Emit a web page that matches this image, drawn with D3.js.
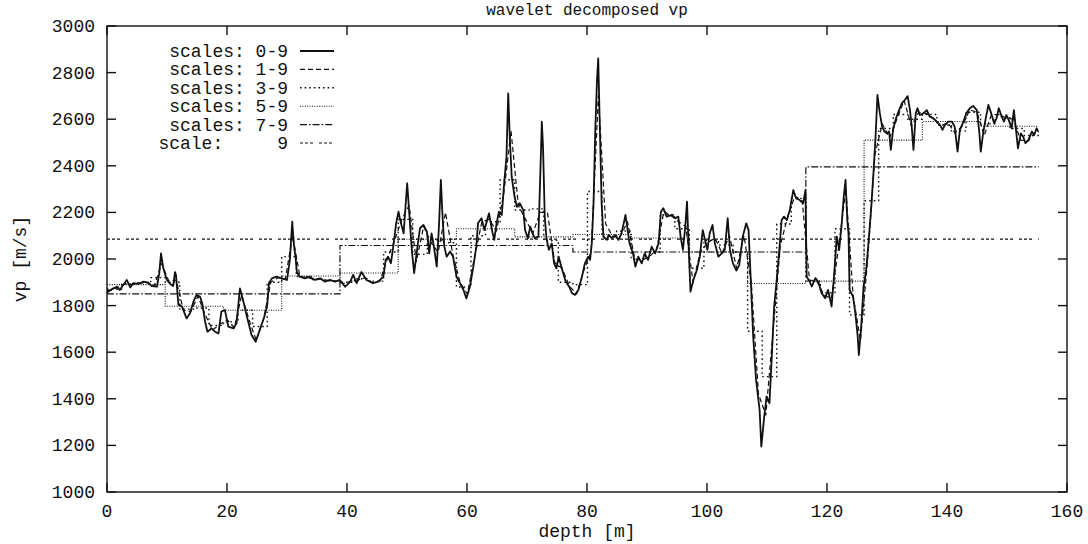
<!DOCTYPE html>
<html>
<head>
<meta charset="utf-8">
<script src="https://cdn.jsdelivr.net/npm/d3@7"></script>
<style>
  body { margin: 0; background: #fff; }
  svg text { font-family: "Liberation Mono", "Courier New", monospace; font-size: 18px; fill: #111; white-space: pre; }
  svg text.title { font-size: 16px; }
</style>
</head>
<body>
<svg id="chart" width="1088" height="544"></svg>
<script>
// ---- data: vp log (m/s) against depth (m) and its Haar wavelet approximations ----
const signalDepth = [0.00,0.19,1.06,1.65,2.12,2.71,3.29,3.87,4.36,5.22,6.10,6.87,7.46,8.32,8.71,9.00,9.39,9.97,10.55,11.03,11.33,11.51,11.90,12.49,13.26,13.84,14.41,14.90,15.49,15.87,16.35,16.74,17.42,18.00,18.58,19.06,19.65,20.22,21.09,21.58,22.16,22.74,23.32,24.09,24.78,25.45,26.23,26.71,27.00,27.48,28.25,29.12,30.00,30.48,30.87,31.16,31.45,31.65,32.12,33.00,33.77,34.64,35.52,36.29,37.16,38.03,38.80,39.68,40.55,41.03,41.61,42.39,43.25,44.32,45.19,46.06,46.45,46.83,47.32,47.71,48.19,48.58,48.87,49.44,49.83,50.03,50.42,50.80,51.19,51.68,52.16,52.74,53.32,53.70,54.09,54.48,54.96,55.35,55.64,55.93,56.22,56.61,57.19,57.67,58.25,58.84,59.41,59.90,60.48,61.06,61.55,61.83,62.42,62.90,63.28,63.67,64.16,64.54,64.93,65.32,65.80,66.19,66.58,66.87,67.15,67.45,67.93,68.32,68.80,69.38,69.68,70.15,70.54,70.93,71.31,71.90,72.19,72.47,72.67,72.96,73.25,73.64,74.12,74.51,74.90,75.28,75.87,76.45,77.03,77.51,77.99,78.57,79.16,79.64,80.22,80.51,80.80,81.09,81.38,81.67,81.87,82.15,82.44,82.74,83.31,83.60,84.19,84.67,85.25,85.74,86.12,86.41,86.70,87.09,87.67,88.06,88.55,89.12,89.61,90.18,90.77,91.35,91.93,92.32,92.71,93.28,94.15,94.73,95.22,95.60,95.99,96.38,96.67,96.96,97.25,97.74,98.31,98.80,99.29,99.67,100.06,100.45,100.92,101.31,101.90,102.47,102.96,103.45,103.83,104.32,104.90,105.38,105.96,106.54,106.93,107.32,107.70,108.18,108.77,109.05,109.54,109.93,110.41,110.80,111.19,111.67,112.05,112.44,112.83,113.31,113.80,114.38,114.86,115.45,116.02,116.41,116.61,117.09,117.47,118.06,118.53,119.12,119.70,120.18,120.77,121.16,121.64,122.03,122.41,122.79,123.09,123.38,123.58,123.77,124.34,124.73,125.12,125.31,125.70,126.09,126.48,126.86,127.34,127.74,128.12,128.41,128.80,129.19,129.57,129.96,130.35,130.64,131.02,131.41,131.90,132.47,132.96,133.44,133.83,134.12,134.41,134.79,135.08,135.47,136.06,136.63,137.12,137.70,138.28,138.86,139.25,139.64,140.21,140.80,141.28,141.76,142.15,142.74,143.21,143.80,144.37,144.96,145.35,145.63,146.02,146.41,146.90,147.37,147.86,148.25,148.63,149.12,149.51,149.89,150.28,150.77,151.15,151.44,151.83,152.31,152.69,153.08,153.57,154.15,154.54,154.93,155.21];
const signalVp = [1855,1860,1874,1881,1867,1888,1910,1878,1896,1893,1903,1899,1884,1881,1938,2024,1960,1910,1893,1884,1944,1930,1803,1796,1745,1767,1817,1845,1839,1810,1731,1688,1702,1688,1681,1774,1781,1710,1702,1724,1874,1817,1753,1674,1645,1695,1753,1803,1896,1917,1924,1917,1910,1996,2160,2060,2000,1944,1924,1917,1924,1910,1917,1903,1910,1903,1910,1881,1903,1932,1896,1944,1910,1896,1903,1924,1996,2010,1982,2053,2153,2203,2167,2110,2253,2325,2181,2039,1939,2039,2132,2146,2117,2024,2110,2053,1967,2153,2339,2181,2053,2010,2032,2010,1924,1896,1867,1831,1881,1967,2053,2153,2175,2124,2160,2196,2124,2082,2153,2203,2189,2325,2439,2711,2511,2353,2267,2224,2239,2210,2124,2089,2139,2110,2089,2096,2339,2589,2482,2181,2089,2039,2067,1981,1960,2010,1953,1903,1881,1853,1846,1867,1924,1981,2010,1996,2067,2239,2554,2768,2861,2554,2239,2096,2082,2103,2089,2103,2082,2110,2153,2189,2139,2067,2024,1967,2010,1981,2024,1996,2053,2024,2067,2203,2218,2182,2189,2175,2182,2096,2039,2139,2246,2039,1860,1910,1953,2010,2124,2082,2039,2110,2146,2067,2010,2024,2039,2175,2039,1981,1950,1975,2096,2153,2124,1896,1667,1481,1352,1195,1324,1410,1381,1582,1796,1925,2039,2167,2182,2167,2210,2296,2260,2253,2239,2296,1925,1903,1882,1918,1903,1853,1832,1867,1796,1925,2096,2039,2139,2267,2339,2167,2110,1867,1839,1767,1667,1588,1710,1882,1939,2053,2210,2368,2539,2704,2626,2568,2547,2539,2547,2468,2554,2597,2632,2668,2682,2699,2639,2568,2468,2625,2647,2618,2625,2639,2611,2604,2590,2575,2554,2575,2590,2590,2568,2461,2554,2590,2625,2647,2657,2639,2554,2461,2539,2597,2661,2625,2582,2604,2647,2611,2590,2618,2597,2561,2639,2568,2475,2539,2525,2497,2511,2547,2532,2561,2547];

// total logged interval (m); every approximation below splits it into equal blocks
const totalLength = 155.3;
const scales1to9 = [1865,1878,1895,1890,1897,1900,1885,1980,1905,1910,1780,1775,1840,1760,1695,1720,1740,1705,1845,1740,1650,1740,1900,1920,1915,2100,1925,1920,1912,1915,1906,1905,1895,1905,1910,1920,1898,1905,2000,2080,2170,2230,1990,2140,2070,2030,2200,2020,1900,1850,2010,2160,2170,2120,2280,2550,2230,2170,2110,2200,2200,1985,1960,1885,1850,1950,2030,2700,2150,2095,2095,2160,2000,1995,2010,2040,2205,2185,2160,2140,1900,2030,2070,2090,2025,2100,1960,2100,1900,1420,1330,1690,2060,2180,2270,2250,1910,1905,1845,1830,2050,2300,1840,1650,2000,2450,2580,2520,2600,2680,2570,2630,2625,2605,2570,2585,2540,2570,2640,2630,2530,2620,2620,2605,2600,2510,2505,2545];
const scales3to9 = [1870,1893,1898,1920,1900,1785,1790,1715,1730,1780,1710,1900,2010,1925,1912,1906,1900,1915,1905,2030,2170,2020,2080,2070,1880,2100,2160,2340,2210,2215,2080,1900,1890,2290,2095,2120,2000,2030,2190,2130,1960,2080,2060,2030,1690,1495,2150,2260,1905,1855,2130,1760,2250,2560,2620,2600,2620,2575,2550,2630,2580,2610,2560,2530];
const scales5to9 = [1890,1797,1780,1927,1940,2085,2130,2095,2105,2090,2030,1895,1905,2510,2590,2570];
const scales7to9 = [1850,2058,2030,2395];
const scale9 = [2085];

const xTicks = [0,20,40,60,80,100,120,140,160];
const yTicks = [1000,1200,1400,1600,1800,2000,2200,2400,2600,2800,3000];
const legendLabels = ["scales: 0-9","scales: 1-9","scales: 3-9","scales: 5-9","scales: 7-9","scale:     9"];

// ---- layout ----
const plot = { left: 107, right: 1067, top: 26, bottom: 492 };
const x = d3.scaleLinear().domain([0, 160]).range([plot.left, plot.right]);
const y = d3.scaleLinear().domain([1000, 3000]).range([plot.bottom, plot.top]);
const svg = d3.select("#chart");
const ink = "#111";
const tickLen = 9;

// line styles: solid, dashed, dotted, fine-dotted, dash-dot, grouped dashes
const styles = [
  { dash: null,              width: 1.8 },
  { dash: "5,3",             width: 1.2 },
  { dash: "1.6,3",           width: 1.4 },
  { dash: "1,1.4",           width: 1.1 },
  { dash: "7,2,1.6,2",       width: 1.2 },
  { dash: "3,2,3,2,3,6",     width: 1.2 }
];

// blocky approximation -> step points across the whole interval
function blocks(values) {
  const w = totalLength / values.length;
  const pts = values.map((v, i) => [i * w, v]);
  pts.push([totalLength, values[values.length - 1]]);
  return pts;
}
// fine approximation -> points at block centres, pinned to both ends
function centres(values) {
  const w = totalLength / values.length;
  const pts = values.map((v, i) => [(i + 0.5) * w, v]);
  return [[0, values[0]], ...pts, [totalLength, values[values.length - 1]]];
}

const series = [
  { pts: signalDepth.map((d, i) => [d, signalVp[i]]), curve: d3.curveLinear },
  { pts: centres(scales1to9), curve: d3.curveLinear },
  { pts: blocks(scales3to9), curve: d3.curveStepAfter },
  { pts: blocks(scales5to9), curve: d3.curveStepAfter },
  { pts: blocks(scales7to9), curve: d3.curveStepAfter },
  { pts: blocks(scale9), curve: d3.curveStepAfter }
];

const gLines = svg.append("g").attr("fill", "none").attr("stroke", ink);
// coarse approximations first, the measured log last (on top)
for (let k = series.length - 1; k >= 0; k--) {
  const s = series[k];
  const line = d3.line().x(p => x(p[0])).y(p => y(p[1])).curve(s.curve);
  gLines.append("path")
    .attr("d", line(s.pts))
    .attr("stroke-width", styles[k].width)
    .attr("stroke-dasharray", styles[k].dash)
    .attr("stroke-linejoin", "round");
}

// ---- frame and ticks (mirrored on all four sides) ----
svg.append("rect")
  .attr("x", plot.left).attr("y", plot.top)
  .attr("width", plot.right - plot.left).attr("height", plot.bottom - plot.top)
  .attr("fill", "none").attr("stroke", ink).attr("stroke-width", 1.4);

const gTicks = svg.append("g").attr("stroke", ink).attr("stroke-width", 1.4);
xTicks.forEach(t => {
  gTicks.append("line").attr("x1", x(t)).attr("x2", x(t)).attr("y1", plot.bottom).attr("y2", plot.bottom - tickLen);
  gTicks.append("line").attr("x1", x(t)).attr("x2", x(t)).attr("y1", plot.top).attr("y2", plot.top + tickLen);
});
yTicks.forEach(t => {
  gTicks.append("line").attr("x1", plot.left).attr("x2", plot.left + tickLen).attr("y1", y(t)).attr("y2", y(t));
  gTicks.append("line").attr("x1", plot.right).attr("x2", plot.right - tickLen).attr("y1", y(t)).attr("y2", y(t));
});

svg.append("g").selectAll("text").data(xTicks).join("text")
  .attr("x", d => x(d)).attr("y", plot.bottom + 25)
  .attr("text-anchor", "middle").text(d => d);
svg.append("g").selectAll("text").data(yTicks).join("text")
  .attr("x", plot.left - 12).attr("y", d => y(d) + 6)
  .attr("text-anchor", "end").text(d => d);

// ---- titles ----
const midX = (plot.left + plot.right) / 2;
svg.append("text").attr("class", "title").attr("x", midX).attr("y", 15)
  .attr("text-anchor", "middle").text("wavelet decomposed vp");
svg.append("text").attr("x", midX).attr("y", 537)
  .attr("text-anchor", "middle").text("depth [m]");
svg.append("text")
  .attr("transform", `translate(26,${(plot.top + plot.bottom) / 2}) rotate(-90)`)
  .attr("text-anchor", "middle").text("vp [m/s]");

// ---- key ----
const key = svg.append("g");
legendLabels.forEach((lab, i) => {
  const cy = 51 + i * 18.4;
  key.append("text").attr("x", 288).attr("y", cy + 6)
    .attr("text-anchor", "end").attr("xml:space", "preserve").text(lab);
  key.append("line").attr("x1", 300).attr("x2", 334).attr("y1", cy).attr("y2", cy)
    .attr("stroke", ink).attr("stroke-width", styles[i].width)
    .attr("stroke-dasharray", styles[i].dash);
});
</script>
</body>
</html>
